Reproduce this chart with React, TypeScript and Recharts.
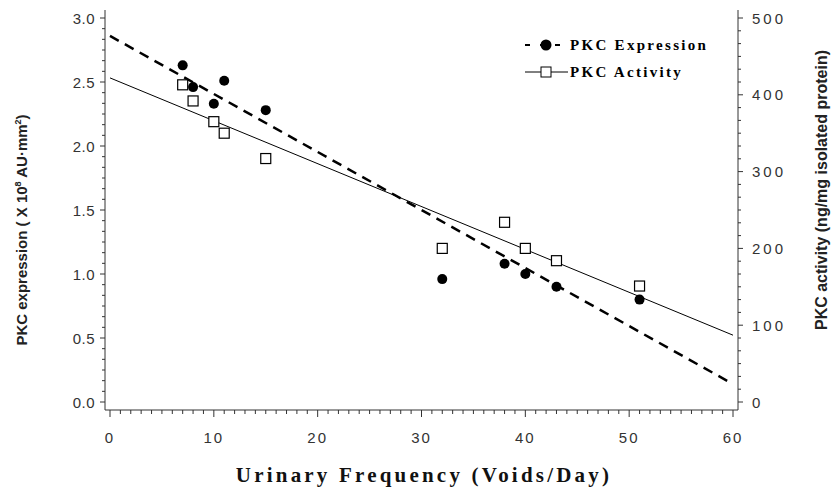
import React from "react";
import {
  ComposedChart,
  Scatter,
  Line,
  XAxis,
  YAxis,
} from "recharts";

// voids per day for each subject
const freq = [7, 8, 10, 11, 15, 32, 38, 40, 43, 51];
// PKC expression (x10^8 AU.mm2)
const expression = [2.63, 2.46, 2.33, 2.51, 2.28, 0.96, 1.08, 1.0, 0.9, 0.8];
// PKC activity (ng/mg isolated protein)
const activity = [413, 392, 365, 350, 317, 200, 234, 200, 184, 151];

// fitted lines, end points
const fitX = [0, 60];
const expressionFit = [2.86, 0.14];
const activityFit = [422, 87];

const leftLabels = [0, 0.5, 1, 1.5, 2, 2.5, 3];
const rightLabels = [0, 100, 200, 300, 400, 500];
const xLabels = [0, 10, 20, 30, 40, 50, 60];

const exprPoints = freq.map((x, i) => ({ x, y: expression[i] }));
const actPoints = freq.map((x, i) => ({ x, y: activity[i] }));
const exprLine = fitX.map((x, i) => ({ x, y: expressionFit[i] }));
const actLine = fitX.map((x, i) => ({ x, y: activityFit[i] }));

const leftTicks = Array.from({ length: 37 }, (_, i) => i / 12);
const rightTicks = Array.from({ length: 31 }, (_, i) => (i * 50) / 3);
const xTicks = Array.from({ length: 61 }, (_, i) => i);

const tickFont = "'Liberation Sans', Arial, sans-serif";
const serif = "'Liberation Serif', 'Times New Roman', serif";
const ink = "#333";

const isMajor = (v: number, list: number[]) =>
  list.some((m) => Math.abs(m - v) < 1e-6);

const LeftTick = (props: any) => {
  const { x, y, payload } = props;
  const major = isMajor(payload.value, leftLabels);
  return (
    <g>
      <line x1={x} x2={x - (major ? 5 : 3)} y1={y} y2={y} stroke={ink} />
      {major && (
        <text x={x - 10} y={y + 5.5} textAnchor="end" fontSize={15} fill={ink}
          fontFamily={tickFont} letterSpacing={0.5}>
          {payload.value.toFixed(1)}
        </text>
      )}
    </g>
  );
};

const RightTick = (props: any) => {
  const { x, y, payload } = props;
  const major = isMajor(payload.value, rightLabels);
  return (
    <g>
      <line x1={x} x2={x + (major ? 5 : 3)} y1={y} y2={y} stroke={ink} />
      {major && (
        <text x={x + 14} y={y + 5.5} textAnchor="start" fontSize={15} fill={ink}
          fontFamily={tickFont} letterSpacing={3}>
          {Math.round(payload.value)}
        </text>
      )}
    </g>
  );
};

const BottomTick = (props: any) => {
  const { x, y, payload } = props;
  const major = isMajor(payload.value, xLabels);
  return (
    <g>
      <line x1={x} x2={x} y1={y} y2={y + (major ? 7 : 4)} stroke={ink} />
      {major && (
        <text x={x} y={y + 33} textAnchor="middle" fontSize={15} fill={ink}
          fontFamily={tickFont} letterSpacing={2}>
          {payload.value}
        </text>
      )}
    </g>
  );
};

const Dot = (props: any) => {
  const { cx, cy } = props;
  return <circle cx={cx} cy={cy} r={5} fill="#000" />;
};

const Box = (props: any) => {
  const { cx, cy } = props;
  return (
    <rect x={cx - 5} y={cy - 5} width={10} height={10} fill="#fff"
      stroke="#000" strokeWidth={1.2} />
  );
};

const LegendBox = () => (
  <svg width={220} height={50}
    style={{ position: "absolute", left: 520, top: 32 }}>
    <line x1={5} x2={48} y1={13} y2={13} stroke="#000" strokeWidth={2}
      strokeDasharray="5 10" />
    <circle cx={26} cy={13} r={5.5} fill="#000" />
    <text x={50} y={18} fontSize={15} fontWeight="bold" fontFamily={serif}
      letterSpacing={2.3}>PKC Expression</text>
    <line x1={5} x2={48} y1={40} y2={40} stroke="#000" strokeWidth={1} />
    <rect x={21} y={35} width={10} height={10} fill="#fff" stroke="#000" />
    <text x={50} y={45} fontSize={15} fontWeight="bold" fontFamily={serif}
      letterSpacing={2.3}>PKC Activity</text>
  </svg>
);

export default function App() {
  return (
    <div style={{ position: "absolute", left: 0, top: 0, width: 834, height: 497, background: "#fff" }}>
      <ComposedChart width={834} height={497}
        margin={{ top: 10, right: 0, bottom: 0, left: 0 }}>
        <XAxis xAxisId="top" orientation="top" type="number" dataKey="x"
          domain={[0, 60]} height={0} tick={false} tickLine={false}
          axisLine={{ stroke: ink }} />
        <XAxis type="number" dataKey="x" domain={[0, 60]} ticks={xTicks}
          interval={0} height={87} padding={{ left: 5, right: 5 }}
          tickSize={0} tickMargin={0} tickLine={false} tick={<BottomTick />}
          axisLine={{ stroke: ink }}
          label={{
            content: () => (
              <text x={424} y={482} textAnchor="middle" fontSize={21}
                fontWeight="bold" fill="#111" letterSpacing={3.2}
                fontFamily={serif}>
                Urinary Frequency (Voids/Day)
              </text>
            ),
          }} />
        <YAxis yAxisId="left" type="number" domain={[0, 3]} ticks={leftTicks}
          interval={0} width={105} padding={{ top: 8, bottom: 8 }}
          tickSize={0} tickMargin={0} tickLine={false} tick={<LeftTick />}
          axisLine={{ stroke: ink }}
          label={{
            content: () => (
              <text transform="translate(27,230) rotate(-90)"
                textAnchor="middle" fontSize={15} fontWeight="bold"
                fill="#222" fontFamily={tickFont}>
                PKC expression ( X 10<tspan fontSize={9} dy={-6}>8</tspan>
                <tspan dy={6}> AU·mm</tspan>
                <tspan fontSize={9} dy={-6}>2</tspan>
                <tspan dy={6}>)</tspan>
              </text>
            ),
          }} />
        <YAxis yAxisId="right" orientation="right" type="number"
          domain={[0, 500]} ticks={rightTicks} interval={0} width={96}
          padding={{ top: 8, bottom: 8 }} tickSize={0} tickMargin={0}
          tickLine={false} tick={<RightTick />} axisLine={{ stroke: ink }}
          label={{
            content: () => (
              <text transform="translate(827,190) rotate(-90)"
                textAnchor="middle" fontSize={16} fontWeight="bold"
                fill="#222" fontFamily={tickFont}>
                PKC activity (ng/mg isolated protein)
              </text>
            ),
          }} />
        <Line yAxisId="left" data={exprLine} dataKey="y" stroke="#000"
          strokeWidth={2.5} strokeDasharray="10 7" dot={false}
          isAnimationActive={false} />
        <Line yAxisId="right" data={actLine} dataKey="y" stroke="#000"
          strokeWidth={1} dot={false} isAnimationActive={false} />
        <Scatter yAxisId="left" name="PKC Expression" data={exprPoints}
          dataKey="y" shape={<Dot />} isAnimationActive={false} />
        <Scatter yAxisId="right" name="PKC Activity" data={actPoints}
          dataKey="y" shape={<Box />} isAnimationActive={false} />
      </ComposedChart>
      <LegendBox />
    </div>
  );
}
